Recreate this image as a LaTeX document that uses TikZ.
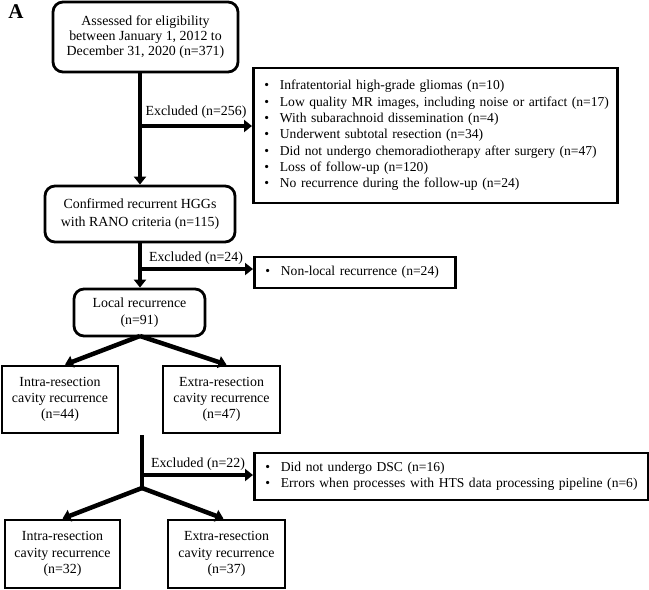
\documentclass[tikz,border=0pt]{standalone}
\usepackage{fontspec}
\setmainfont{Liberation Serif}
\usetikzlibrary{arrows.meta,calc}
\newcommand\myfs{\fontsize{13.9}{16.3}\selectfont}
\newcommand\mylfs{\fontsize{13.6}{16.3}\selectfont}
\newcommand\bl[1]{\mbox{\makebox[15.5pt][l]{\textbullet}#1}}
\begin{document}
\begin{tikzpicture}[x=1pt,y=-1pt,
  box/.style={draw,line width=2.8pt,align=center,inner sep=0pt,font=\myfs},
  rbox/.style={box,rounded corners=10pt},
  lbox/.style={draw,line width=2.8pt,align=left,inner xsep=11pt,inner ysep=0pt,font=\mylfs,anchor=west},
  arr/.style={line width=4.5pt,-{Triangle[length=8pt,width=12pt]}},
  seg/.style={line width=4.5pt},
  lab/.style={font=\myfs,inner sep=0pt}]
\useasboundingbox (0,0) rectangle (649,590);

\node[font=\fontsize{21}{22}\selectfont\bfseries,inner sep=0pt] (A) at (16,12) {A};

\node[rbox,minimum width=185pt,minimum height=70pt,font=\fontsize{13.9}{15}\selectfont] (b1) at (145.5,37)
  {Assessed for eligibility\\between January 1, 2012 to\\December 31, 2020 (n=371)};
\node[lbox,text width=342pt,minimum height=135pt] (x1) at (252,135.5)
  {\bl{Infratentorial high-grade gliomas (n=10)}\\
   \bl{Low quality MR images, including noise or artifact (n=17)}\\
   \bl{With subarachnoid dissemination (n=4)}\\
   \bl{Underwent subtotal resection (n=34)}\\
   \bl{Did not undergo chemoradiotherapy after surgery (n=47)}\\
   \bl{Loss of follow-up (n=120)}\\
   \bl{No recurrence during the follow-up (n=24)}};
\node[rbox,minimum width=190pt,minimum height=56pt,font=\fontsize{13.9}{18}\selectfont] (b2) at (140,214)
  {Confirmed recurrent HGGs\\with RANO criteria (n=115)};
\node[lbox,text width=179pt,minimum height=31pt] (x2) at (253,272.5)
  {\bl{Non-local recurrence (n=24)}};
\node[rbox,minimum width=131pt,minimum height=47pt,font=\fontsize{13.9}{17}\selectfont] (b3) at (139.5,312.5)
  {Local recurrence\\(n=91)};
\node[box,minimum width=116pt,minimum height=67pt] (l1) at (60,399.5)
  {Intra-resection\\cavity recurrence\\(n=44)};
\node[box,minimum width=117pt,minimum height=67pt] (r1) at (221.5,399.5)
  {Extra-resection\\cavity recurrence\\(n=47)};
\node[lbox,text width=372pt,minimum height=47pt] (x3) at (253,476.5)
  {\bl{Did not undergo DSC (n=16)}\\
   \bl{Errors when processes with HTS data processing pipeline (n=6)}};
\node[box,minimum width=115pt,minimum height=68pt] (l2) at (62.5,554)
  {Intra-resection\\cavity recurrence\\(n=32)};
\node[box,minimum width=117pt,minimum height=68pt] (r2) at (226.5,554)
  {Extra-resection\\cavity recurrence\\(n=37)};

% connectors
\draw[arr] (b1.south -| b2.north) -- (b2.north);
\coordinate (e1) at (140,126);
\draw[arr] (e1) -- (e1 -| x1.west);
\node[lab] (t1) at (196,112) {Excluded (n=256)};

\draw[arr] (b2.south) -- (b2.south |- b3.north);
\coordinate (e2) at (140,269);
\draw[arr] (e2) -- (e2 -| x2.west);
\node[lab] (t2) at (196,258) {Excluded (n=24)};

\coordinate (s3) at (140,336);
\draw[arr] (s3) -- ($(l1.north)+(5,0)$);
\draw[arr] (s3) -- ($(r1.north)+(5,0)$);

\coordinate (v1) at (142,435);
\coordinate (j) at (142,488);
\draw[seg] (v1) -- (j);
\coordinate (e3) at (142,475);
\draw[arr] (e3) -- (e3 -| x3.west);
\node[lab] (t3) at (198,464) {Excluded (n=22)};
\draw[arr] (j) -- (l2.north);
\draw[arr] (j) -- ($(r2.north)+(-3,0)$);
\end{tikzpicture}
\end{document}
